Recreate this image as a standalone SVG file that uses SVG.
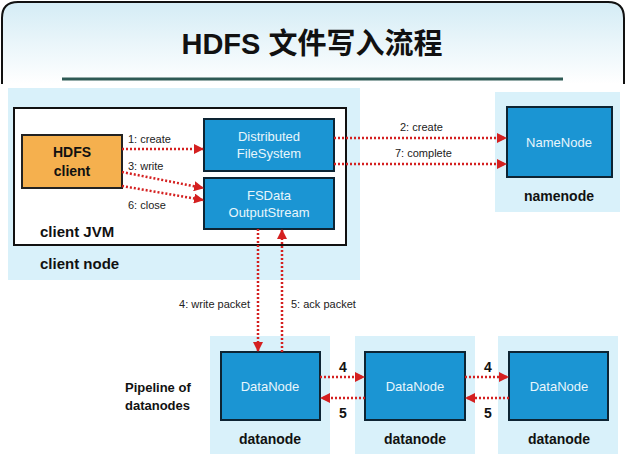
<svg xmlns="http://www.w3.org/2000/svg" width="640" height="454" viewBox="0 0 640 454">
<defs>
<linearGradient id="bg" x1="0" y1="0" x2="0" y2="1"><stop offset="0" stop-color="#d4ecf5"/><stop offset="1" stop-color="#ffffff"/></linearGradient>
<marker id="ah" viewBox="0 0 10 10" refX="9" refY="5" markerWidth="4" markerHeight="4" orient="auto"><path d="M0,0L10,5L0,10z" fill="#d42020"/></marker>
<style>
text{font-family:"Liberation Sans","Noto Sans CJK SC",sans-serif}
.panel{fill:#d9f1fa}
.blue{fill:#1b95d3;stroke:#0d2433;stroke-width:2}
.bt{fill:#e8f6fc;font-size:13px;text-anchor:middle}
.lb{fill:#111;font-size:14px;font-weight:bold;text-anchor:middle}
.sl{fill:#222;font-size:11px}
.ar{stroke:#d42020;stroke-width:2.5;stroke-dasharray:2,2;fill:none;marker-end:url(#ah)}
.ln{stroke:#d42020;stroke-width:2.5;stroke-dasharray:2,2;fill:none}
</style>
</defs>
<rect width="640" height="454" fill="#ffffff"/>
<path d="M2,84V18Q2,2 18,2H608Q624,2 624,18V84" fill="url(#bg)" stroke="#111" stroke-width="2"/>
<text x="312" y="54" font-size="29" font-weight="bold" text-anchor="middle" fill="#111">HDFS 文件写入流程</text>
<line x1="62" y1="79" x2="563" y2="79" stroke="#2e5a55" stroke-width="3"/>
<g id="client-node"><rect class="panel" x="8" y="88" width="352" height="192"/>
<text x="40" y="269" font-size="15" font-weight="bold" fill="#111">client node</text></g>
<g id="client-jvm"><rect x="14" y="108" width="332" height="137" fill="#fff" stroke="#111" stroke-width="2"/>
<text x="40" y="237" font-size="15" font-weight="bold" fill="#111">client JVM</text></g>
<g id="hdfs-client"><rect x="22" y="135" width="100" height="53" fill="#f5b04e" stroke="#222" stroke-width="2"/>
<text x="72" y="157" class="lb" fill="#2a1a00">HDFS</text><text x="72" y="176" class="lb">client</text></g>
<g id="dfs"><rect class="blue" x="204" y="119" width="130" height="52"/>
<text class="bt" x="269" y="141">Distributed</text><text class="bt" x="269" y="158">FileSystem</text></g>
<g id="fsdata"><rect class="blue" x="204" y="178" width="130" height="51"/>
<text class="bt" x="269" y="200">FSData</text><text class="bt" x="269" y="217">OutputStream</text></g>
<g id="namenode"><rect class="panel" x="495" y="92" width="125" height="120"/>
<rect class="blue" x="507" y="107" width="105" height="70"/>
<text class="bt" x="559" y="147">NameNode</text><text class="lb" x="559" y="201">namenode</text></g>
<g id="dn1"><rect class="panel" x="210" y="336" width="120" height="118"/><rect class="blue" x="221" y="352" width="99" height="68"/>
<text class="bt" x="270" y="391">DataNode</text><text class="lb" x="270" y="444">datanode</text></g>
<g id="dn2"><rect class="panel" x="355" y="336" width="120" height="118"/><rect class="blue" x="365" y="352" width="100" height="68"/>
<text class="bt" x="415" y="391">DataNode</text><text class="lb" x="415" y="444">datanode</text></g>
<g id="dn3"><rect class="panel" x="498" y="336" width="120" height="118"/><rect class="blue" x="509" y="352" width="99" height="68"/>
<text class="bt" x="559" y="391">DataNode</text><text class="lb" x="559" y="444">datanode</text></g>
<text x="125" y="392" font-size="13" font-weight="bold" fill="#111">Pipeline of</text>
<text x="125" y="410" font-size="13" font-weight="bold" fill="#111">datanodes</text>
<g id="connectors">
<path class="ar" d="M122,149H203"/>
<path class="ar" d="M122,172L203,188"/>
<path class="ar" d="M122,186L203,200"/>
<path class="ar" d="M334,138H506"/>
<path class="ar" d="M334,164H506"/>
<path class="ar" d="M258,229V351"/>
<path class="ar" d="M282,352V230"/>
<path class="ar" d="M320,377H364"/>
<path class="ar" d="M365,398H321"/>
<path class="ar" d="M465,377H508"/>
<path class="ar" d="M509,398H466"/>
<text class="sl" x="128" y="143">1: create</text>
<text class="sl" x="128" y="170">3: write</text>
<text class="sl" x="128" y="209">6: close</text>
<text class="sl" x="400" y="131">2: create</text>
<text class="sl" x="395" y="157">7: complete</text>
<text class="sl" x="250" y="308" text-anchor="end">4: write packet</text>
<text class="sl" x="291" y="308">5: ack packet</text>
<text class="lb" x="343" y="372">4</text><text class="lb" x="343" y="418">5</text>
<text class="lb" x="488" y="372">4</text><text class="lb" x="488" y="418">5</text>
</g>
</svg>
